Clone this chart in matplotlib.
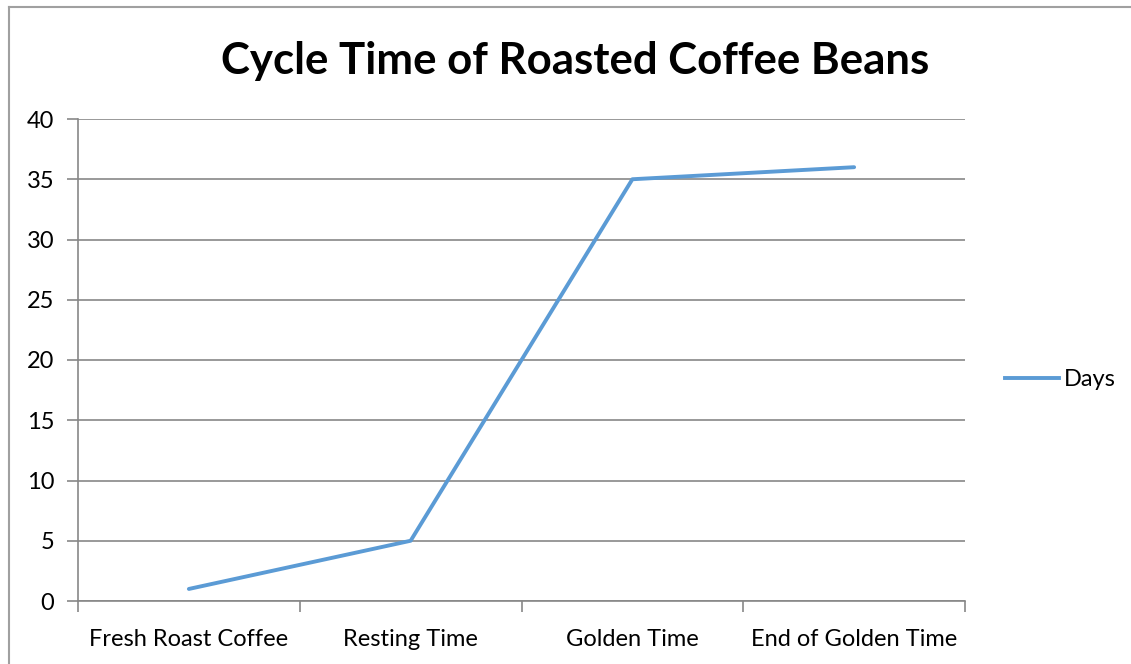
import matplotlib.pyplot as plt
from matplotlib.lines import Line2D

categories = ["Fresh Roast Coffee", "Resting Time", "Golden Time", "End of Golden Time"]
days = [1, 5, 35, 36]
yticks = [0, 5, 10, 15, 20, 25, 30, 35, 40]

plt.rcParams['font.family'] = ['Lato', 'DejaVu Sans']

W, H = 1131, 664
fig = plt.figure(figsize=(W / 100, H / 100), dpi=100)
ax = fig.add_axes([78 / W, 1 - 601 / H, (965 - 78) / W, (601 - 119) / H])

line_color = '#5B9BD5'
grid_color = '#878787'
fs = 17

x = [i + 0.5 for i in range(len(categories))]
ax.plot(x, days, color=line_color, linewidth=2.8, solid_capstyle='round')

ax.set_xlim(0, len(categories))
ax.set_ylim(0, 40)
ax.set_yticks(yticks)
ax.set_yticklabels([str(v) for v in yticks], fontsize=fs)
ax.set_xticks(range(len(categories) + 1))
ax.set_xticklabels([])
ax.set_xticks(x, minor=True)
ax.set_xticklabels(categories, minor=True, fontsize=fs)
ax.tick_params(axis='x', which='minor', length=0, pad=20)
ax.tick_params(axis='x', which='major', length=8, color=grid_color, width=1.2)
ax.tick_params(axis='y', length=8, color=grid_color, width=1.2, pad=9)

ax.grid(True, axis='y', color=grid_color, linewidth=1.2)
ax.set_axisbelow(True)
for s in ['top', 'right']:
    ax.spines[s].set_visible(False)
for s in ['left', 'bottom']:
    ax.spines[s].set_color(grid_color)
    ax.spines[s].set_linewidth(1.2)

fig.text(575 / W, 1 - 61 / H, "Cycle Time of Roasted Coffee Beans",
         ha='center', va='center', fontsize=31.5, fontweight='bold')

fig.legend(handles=[Line2D([], [], color=line_color, linewidth=2.8)], labels=["Days"],
           loc='center left', bbox_to_anchor=(1005 / W, 1 - 380 / H), frameon=False,
           fontsize=fs, handlelength=2.3, handletextpad=0.2, borderpad=0, borderaxespad=0)

# chart frame (left and top edges)
fig.add_artist(Line2D([9 / W, 9 / W], [0, 1 - 7 / H], color='#A0A0A0', linewidth=1.5))
fig.add_artist(Line2D([9 / W, 1], [1 - 7 / H, 1 - 7 / H], color='#A0A0A0', linewidth=1.5))

fig.savefig("out.png", dpi=100)
